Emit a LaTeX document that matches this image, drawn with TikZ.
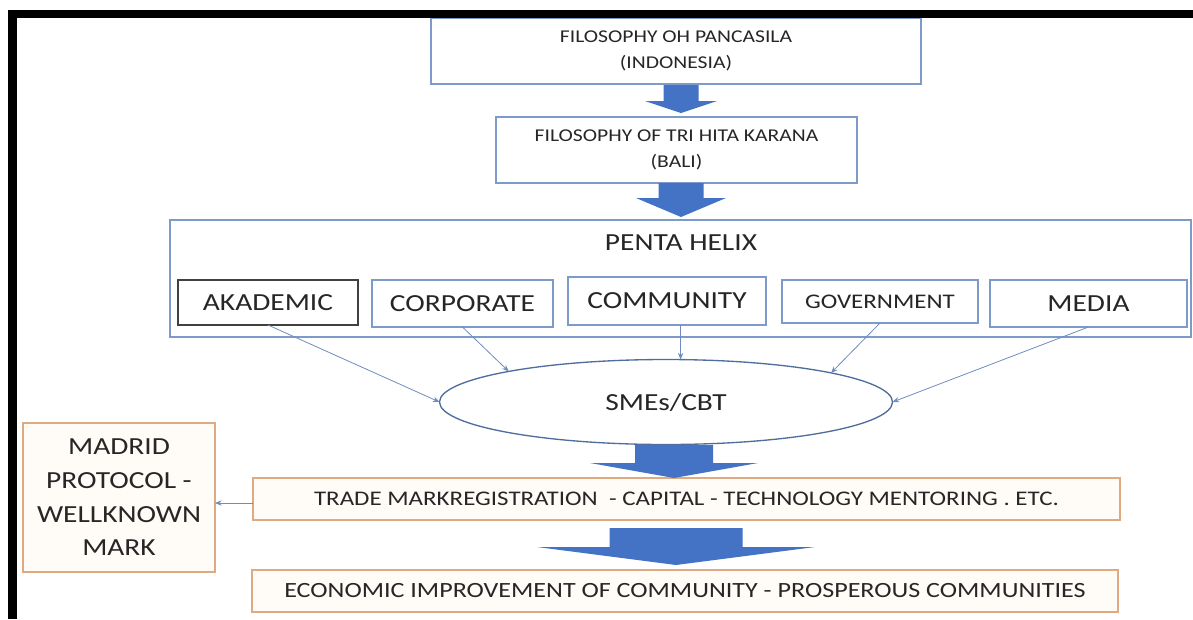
\documentclass[tikz,border=0pt]{standalone}
\usepackage{fontspec}
\setmainfont{Carlito}[FakeStretch=1.2]
\usetikzlibrary{arrows.meta,shapes.geometric}
\definecolor{boxblue}{HTML}{7D9BC9}
\definecolor{boxorange}{HTML}{DFAA82}
\definecolor{orangefill}{HTML}{FFFBF7}
\definecolor{arrowblue}{HTML}{4472C4}
\definecolor{linkblue}{HTML}{6E8CC0}
\definecolor{ellblue}{HTML}{4F6E9E}
\definecolor{txt}{HTML}{262626}
% #1 centre x, #2 stem top, #3 head base, #4 tip, #5 stem half width, #6 head half width
\newcommand\blkarrow[6]{\fill[blockfill] (#1-#5,#2) -- (#1+#5,#2) -- (#1+#5,#3) -- (#1+#6,#3) -- (#1,#4) -- (#1-#6,#3) -- (#1-#5,#3) -- cycle;}
\begin{document}
\begin{tikzpicture}[x=0.75pt,y=-0.75pt,
  bluebox/.style={draw=boxblue, line width=1.1pt, fill=white, inner sep=0pt, outer sep=0pt, text=txt, align=center},
  orangebox/.style={draw=boxorange, line width=1.1pt, fill=orangefill, inner sep=0pt, outer sep=0pt, text=txt, align=center},
  link/.style={draw=linkblue, line width=0.6pt, -{Stealth[length=5pt,width=4pt]}},
  blockfill/.style={fill=arrowblue},
  bigfont/.style={font=\fontsize{18.4}{22}\selectfont},
  smallfont/.style={font=\fontsize{13.5}{19.5}\selectfont},
]
\useasboundingbox (0,0) rectangle (1193,619);

% top boxes
\node[bluebox, smallfont, minimum width=367.5pt, minimum height=49.5pt] (b1) at (676,51)
  {FILOSOPHY OH PANCASILA\\(INDONESIA)};
\node[bluebox, smallfont, minimum width=270.75pt, minimum height=49.5pt] (b2) at (676.5,150)
  {FILOSOPHY OF TRI HITA KARANA\\(BALI)};

% penta helix
\node[bluebox, minimum width=765.75pt, minimum height=87.75pt] (penta) at (680.5,278.5) {};
\node[text=txt, bigfont, inner sep=0pt] (ph) at (681,243) {PENTA HELIX};
\node[bluebox, bigfont, draw=black!75, minimum width=135pt, minimum height=33.75pt] (ak) at (268,302.5) {AKADEMIC};
\node[bluebox, bigfont, minimum width=135.75pt, minimum height=35.25pt] (corp) at (462.5,303.5) {CORPORATE};
\node[bluebox, bigfont, minimum width=148.5pt, minimum height=36pt] (comm) at (667,301) {COMMUNITY};
\node[bluebox, font=\fontsize{15.6}{19}\selectfont, minimum width=147pt, minimum height=32.25pt] (gov) at (880,301.5) {GOVERNMENT};
\node[bluebox, bigfont, minimum width=147.75pt, minimum height=35.25pt] (media) at (1088.5,303.5) {MEDIA};

% SMEs ellipse
\node[ellipse, draw=ellblue, line width=1pt, fill=white, text=txt, bigfont, inner sep=0pt, outer sep=0pt,
      minimum width=339.75pt, minimum height=63.75pt] (sme) at (666,402) {SMEs/CBT};

% thin links
\draw[link] (ak.south) -- (sme.west);
\draw[link] (corp.south) -- (sme.169);
\draw[link] (comm.south -| sme.71) -- (sme.71);
\draw[link] (gov.south) -- (sme.10);
\draw[link] (media.south) -- (sme.east);

% lower boxes
\node[orangebox, font=\fontsize{15.6}{19}\selectfont, minimum width=650.25pt, minimum height=31.5pt] (trade) at (686.5,499)
  {TRADE MARKREGISTRATION~ - CAPITAL - TECHNOLOGY MENTORING . ETC.};
\node[orangebox, font=\fontsize{16.3}{20}\selectfont, minimum width=649.5pt, minimum height=31.5pt] (econ) at (685,591)
  {ECONOMIC IMPROVEMENT OF COMMUNITY - PROSPEROUS COMMUNITIES};
\node[orangebox, font=\fontsize{18.4}{25.3}\selectfont, minimum width=144pt, minimum height=111.75pt] (madrid) at (119,497.5)
  {MADRID\\PROTOCOL -\\WELLKNOWN\\MARK};

\draw[link] ([yshift=-3pt]trade.west) -- ([yshift=-3pt]trade.west -| madrid.east);

% block arrows
\blkarrow{681}{85}{101}{113}{17.5}{36}
\blkarrow{681}{183}{198}{217}{22.5}{45}
\blkarrow{674}{445}{463}{478}{39}{84}
\blkarrow{676}{528}{547}{565}{66.5}{139}

% black frame
\fill[black] (8,10) rectangle (1193,18);
\fill[black] (8,10) rectangle (17,619);
\end{tikzpicture}
\end{document}
